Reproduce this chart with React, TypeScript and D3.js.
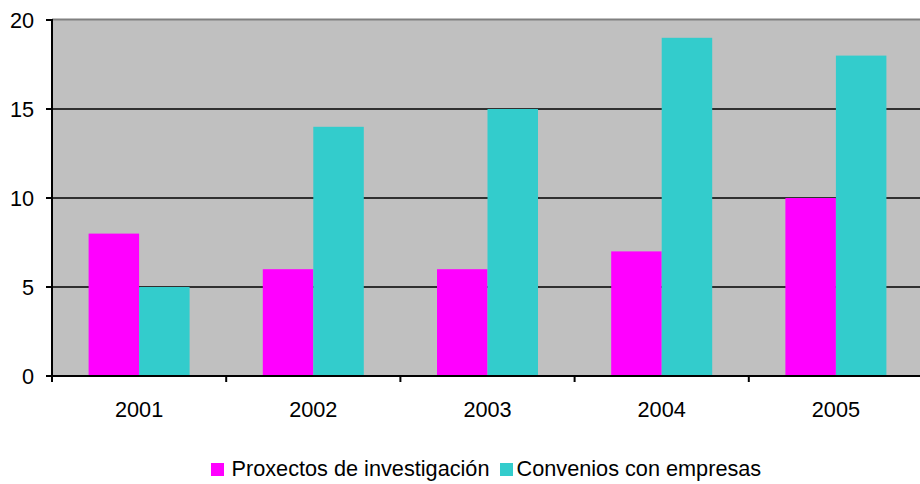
import React from "react";
import * as d3 from "d3";

const categories = ["2001", "2002", "2003", "2004", "2005"];
const proxectos = [8, 6, 6, 7, 10];
const convenios = [5, 14, 15, 19, 18];
const yTicks = [0, 5, 10, 15, 20];
const seriesNames = ["Proxectos de investigación", "Convenios con empresas"];
const seriesColors = ["#ff00ff", "#33cccc"];

export default function App() {
  const W = 920, H = 484;
  const left = 52, right = 923, top = 20, bottom = 376;
  const x = d3.scaleBand<string>().domain(categories).range([left, right]).paddingInner(0).paddingOuter(0);
  const y = d3.scaleLinear().domain([0, 20]).range([bottom, top]);
  const bw = x.bandwidth();
  const barW = 50.5;
  const groupOff = (bw - 2 * barW) / 2;
  const series = [proxectos, convenios];
  const font = "'Liberation Sans', Arial, sans-serif";
  const fs = 21.7;
  return (
    <svg width={W} height={H} style={{ position: "absolute", left: 0, top: 0 }} fontFamily={font}>
      <rect x={left} y={top} width={right - left} height={bottom - top} fill="#c0c0c0" />
      <line x1={left} x2={W} y1={top - 0.5} y2={top - 0.5} stroke="#808080" strokeWidth={2} />
      {yTicks.filter(t => t > 0 && t < 20).map(t => (
        <line key={t} x1={left} x2={W} y1={y(t)} y2={y(t)} stroke="#000" strokeWidth={1.6} />
      ))}
      {series.map((vals, si) =>
        vals.map((v, i) => (
          <rect key={si + "-" + i}
            x={(x(categories[i]) as number) + groupOff + si * barW}
            y={y(v)} width={barW} height={y(0) - y(v)} fill={seriesColors[si]} />
        ))
      )}
      <line x1={left} x2={left} y1={top - 1} y2={bottom + 1} stroke="#000" strokeWidth={2} />
      <line x1={left} x2={W} y1={bottom} y2={bottom} stroke="#000" strokeWidth={2} />
      {yTicks.map(t => (
        <g key={t}>
          <line x1={left - 6} x2={left} y1={y(t)} y2={y(t)} stroke="#000" strokeWidth={2} />
          <text x={left - 18} y={y(t)} dy="0.36em" textAnchor="end" fontSize={fs} fill="#000">{t}</text>
        </g>
      ))}
      {categories.map((c, i) => (
        <g key={c}>
          <line x1={(x(c) as number)} x2={(x(c) as number)} y1={bottom} y2={bottom + 6} stroke="#000" strokeWidth={2} />
          <text x={(x(c) as number) + bw / 2} y={416.5} textAnchor="middle" fontSize={fs} fill="#000">{c}</text>
        </g>
      ))}
      <rect x={211} y={463} width={13} height={13} fill={seriesColors[0]} />
      <text x={231.5} y={476} fontSize={fs} fill="#000">{seriesNames[0]}</text>
      <rect x={500} y={463} width={13} height={13} fill={seriesColors[1]} />
      <text x={516.5} y={476} fontSize={fs} fill="#000">{seriesNames[1]}</text>
    </svg>
  );
}
